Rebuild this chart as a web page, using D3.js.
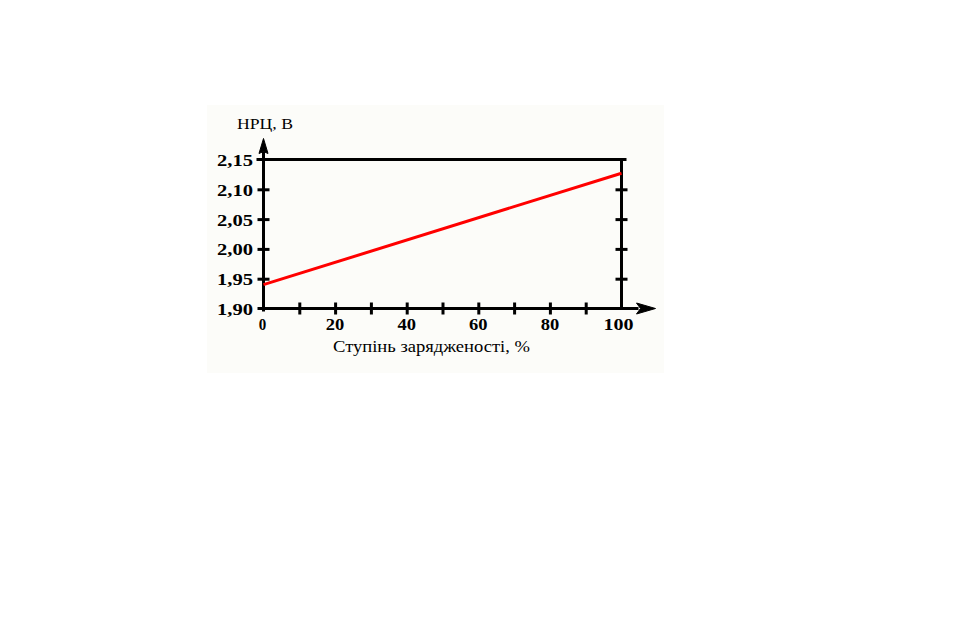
<!DOCTYPE html>
<html>
<head>
<meta charset="utf-8">
<script src="https://cdn.jsdelivr.net/npm/d3@7"></script>
<style>
  html, body { margin: 0; padding: 0; background: #ffffff; }
  svg { display: block; }
</style>
</head>
<body>
<svg id="chart" width="958" height="623"></svg>
<script>
// ---- data ----
const charge = [0, 100];            // Ступінь зарядженості, %
const voltage = [1.94, 2.127];      // НРЦ, В
const xTickValues = [0, 20, 40, 60, 80, 100];
const xMinorTicks = [10, 20, 30, 40, 50, 60, 70, 80, 90];
const yTickValues = [1.90, 1.95, 2.00, 2.05, 2.10, 2.15];
const yInnerTicks = [1.95, 2.00, 2.05, 2.10];
const xTitle = "Ступінь зарядженості, %";
const yTitle = "НРЦ, В";

const svg = d3.select("#chart");
const font = "'Liberation Serif', 'Times New Roman', serif";

// background panel of the picture
svg.append("rect").attr("x", 207).attr("y", 105).attr("width", 457).attr("height", 268)
  .attr("fill", "#fcfcf9");

const x = d3.scaleLinear().domain([0, 100]).range([263.5, 621.5]);
const y = d3.scaleLinear().domain([1.90, 2.15]).range([308.5, 159.5]);

const black = "#000";
const sw = 3;

// left ticks (crossing the axis)
const leftAxis = svg.append("g").attr("transform", `translate(${x(0)},0)`)
  .call(d3.axisLeft(y).tickValues(yInnerTicks).tickSize(6).tickFormat(""));
leftAxis.select(".domain").remove();
leftAxis.selectAll(".tick line").attr("x1", -6).attr("x2", 6)
  .attr("stroke", black).attr("stroke-width", sw);

// right ticks
const rightAxis = svg.append("g").attr("transform", `translate(${x(100)},0)`)
  .call(d3.axisRight(y).tickValues(yInnerTicks).tickSize(6).tickFormat(""));
rightAxis.select(".domain").remove();
rightAxis.selectAll(".tick line").attr("x1", -6).attr("x2", 6)
  .attr("stroke", black).attr("stroke-width", sw);

// bottom ticks
const bottomAxis = svg.append("g").attr("transform", `translate(0,${y(1.90)})`)
  .call(d3.axisBottom(x).tickValues(xMinorTicks).tickSize(6).tickFormat(""));
bottomAxis.select(".domain").remove();
bottomAxis.selectAll(".tick line").attr("y1", -6).attr("y2", 6)
  .attr("stroke", black).attr("stroke-width", sw);

// frame lines
svg.append("line").attr("x1", x(0) - 7).attr("x2", x(100) + 5)
  .attr("y1", y(2.15)).attr("y2", y(2.15)).attr("stroke", black).attr("stroke-width", sw);
svg.append("line").attr("x1", x(100)).attr("x2", x(100))
  .attr("y1", y(2.15) - 1.5).attr("y2", y(1.90) + 1.5).attr("stroke", black).attr("stroke-width", sw);
svg.append("line").attr("x1", x(0) - 6).attr("x2", x(100) + 17)
  .attr("y1", y(1.90)).attr("y2", y(1.90)).attr("stroke", black).attr("stroke-width", sw);
svg.append("line").attr("x1", x(0)).attr("x2", x(0))
  .attr("y1", y(1.90) + 3).attr("y2", y(2.15) - 8).attr("stroke", black).attr("stroke-width", sw);

// arrowheads
const ax = x(0), ay = y(2.15);
svg.append("path")
  .attr("d", `M${ax},${ay - 21} L${ax + 4.5},${ay - 6} L${ax},${ay - 8} L${ax - 4.5},${ay - 6} Z`)
  .attr("fill", black).attr("stroke", black).attr("stroke-width", 1);
const bx = x(100) + 15, by = y(1.90);
svg.append("path")
  .attr("d", `M${bx},${by - 5.5} L${bx + 19},${by} L${bx},${by + 5.5} L${bx + 4},${by} Z`)
  .attr("fill", black).attr("stroke", black).attr("stroke-width", 1);

// data line
const line = d3.line().x((d, i) => x(charge[i])).y(d => y(d));
svg.append("path").datum(voltage)
  .attr("d", line)
  .attr("fill", "none").attr("stroke", "#ff0000").attr("stroke-width", 3);

// y tick labels
const fmtY = d => d.toFixed(2).replace(".", ",");
svg.append("g").selectAll("text").data(yTickValues).join("text")
  .attr("x", 217).attr("y", d => y(d) + 6.5)
  .attr("textLength", 36).attr("lengthAdjust", "spacingAndGlyphs")
  .attr("font-family", font).attr("font-weight", "bold").attr("font-size", 16)
  .attr("fill", black)
  .text(fmtY);

// x tick labels
const xLabelWidth = d => String(d).length === 1 ? 7.5 : (String(d).length === 2 ? 18.5 : 30);
svg.append("g").selectAll("text").data(xTickValues).join("text")
  .attr("x", d => x(d) - xLabelWidth(d) / 2 - (d === 100 ? 3 : 0) - (d === 0 ? 1 : 0))
  .attr("y", 329.5)
  .attr("textLength", xLabelWidth).attr("lengthAdjust", "spacingAndGlyphs")
  .attr("font-family", font).attr("font-weight", "bold").attr("font-size", 16)
  .attr("fill", black)
  .text(d => String(d));

// axis titles
svg.append("text").attr("x", 333).attr("y", 352)
  .attr("textLength", 197).attr("lengthAdjust", "spacingAndGlyphs")
  .attr("font-family", font).attr("font-size", 16.5).attr("fill", black)
  .text(xTitle);
svg.append("text").attr("x", 237).attr("y", 128.5)
  .attr("textLength", 56).attr("lengthAdjust", "spacingAndGlyphs")
  .attr("font-family", font).attr("font-size", 15.5).attr("fill", black)
  .text(yTitle);
</script>
</body>
</html>
